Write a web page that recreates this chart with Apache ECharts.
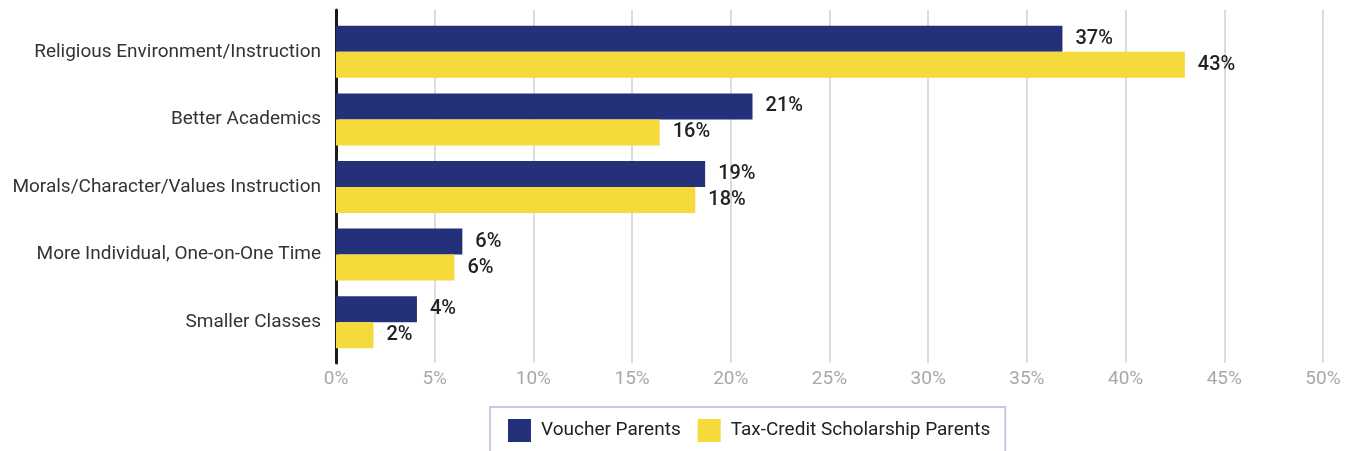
<!DOCTYPE html>
<html>
<head>
<meta charset="utf-8">
<script src="https://cdn.jsdelivr.net/npm/echarts@6/dist/echarts.min.js"></script>
<style>
    html,body{margin:0;padding:0;background:#fff;}
    #main{width:1353px;height:451px;}
</style>
</head>
<body>
<div id="main"></div>
<script>
    var categories = ['Religious Environment/Instruction', 'Better Academics', 'Morals/Character/Values Instruction', 'More Individual, One-on-One Time', 'Smaller Classes'];
    var voucherParents = [36.8, 21.1, 18.7, 6.4, 4.1];
    var taxCreditParents = [43.0, 16.4, 18.2, 6.0, 1.9];
    var seriesNames = ['Voucher Parents', 'Tax-Credit Scholarship Parents'];

    var font = '"Roboto", sans-serif';
    var navy = '#25307a';
    var yellow = '#f4da3a';

    var myChart = echarts.init(document.getElementById('main'));
    var labelOpt = {
        show: true,
        position: 'right',
        distance: 13,
        color: '#222',
        fontSize: 20,
        fontWeight: 500,
        fontFamily: font,
        formatter: function (p) { return Math.round(p.value) + '%'; }
    };
    var option = {
        animation: false,
        grid: [
            {left: 336, right: 30, top: 10, height: 353},
            {left: 336, right: 30, top: 18, height: 338}
        ],
        legend: {
            data: seriesNames,
            icon: 'rect',
            left: 490,
            top: 407,
            itemWidth: 23,
            itemHeight: 23,
            itemGap: 17,
            padding: [12, 15, 12, 18],
            borderColor: '#c9c8e2',
            borderWidth: 2,
            textStyle: {fontSize: 19, color: '#222', fontFamily: font, padding: [0, 0, 0, 5]}
        },
        xAxis: [
            {
                gridIndex: 0, type: 'value', min: 0, max: 50, interval: 5,
                axisLine: {show: false}, axisTick: {show: false},
                splitLine: {lineStyle: {color: '#dcdcdc', width: 2}},
                axisLabel: {formatter: '{value}%', color: '#a8a8a8', fontSize: 19, fontFamily: font, margin: 7}
            },
            {
                gridIndex: 1, type: 'value', min: 0, max: 50,
                axisLine: {show: false}, axisTick: {show: false},
                splitLine: {show: false}, axisLabel: {show: false}
            }
        ],
        yAxis: [
            {
                gridIndex: 0, type: 'category', data: categories, inverse: true,
                axisLine: {lineStyle: {color: '#1a1a1a', width: 3}},
                axisTick: {show: false}, axisLabel: {show: false}
            },
            {
                gridIndex: 1, type: 'category', data: categories, inverse: true,
                axisLine: {show: false}, axisTick: {show: false},
                axisLabel: {color: '#333', fontSize: 19, fontFamily: font, margin: 15}
            }
        ],
        series: [
            {
                name: seriesNames[0], type: 'bar', xAxisIndex: 1, yAxisIndex: 1,
                data: voucherParents, barWidth: 26, barGap: '0%',
                itemStyle: {color: navy}, label: labelOpt
            },
            {
                name: seriesNames[1], type: 'bar', xAxisIndex: 1, yAxisIndex: 1,
                data: taxCreditParents, barWidth: 26, barGap: '0%',
                itemStyle: {color: yellow}, label: labelOpt
            }
        ]
    };
    myChart.setOption(option);
</script>
</body>
</html>
